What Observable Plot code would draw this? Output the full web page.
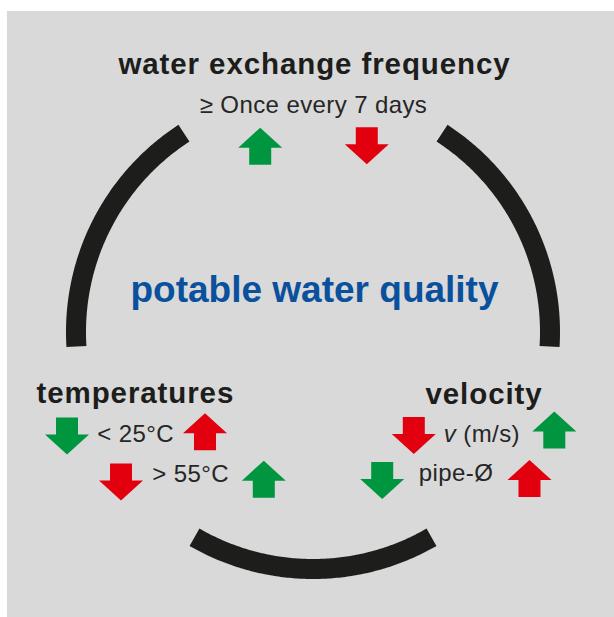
<!DOCTYPE html>
<html><head><meta charset="utf-8">
<script src="https://cdn.jsdelivr.net/npm/d3@7"></script>
<script src="https://cdn.jsdelivr.net/npm/@observablehq/plot@0.6"></script>
<style>
html,body{margin:0;padding:0;background:#fff;}
#chart{position:absolute;left:7px;top:11px;}
</style></head><body><div id="chart"></div>
<script>
// ---------- DATA ----------
const centerLabel = ["potable water quality"];
const groupLabels = ["water exchange frequency", "temperatures", "velocity"];
const conditionLabels = ["≥ Once every 7 days", "< 25°C", "> 55°C", "v (m/s)", "pipe-Ø"];
// two arrows per condition (left, right)
const arrowCondition = ["≥ Once every 7 days","≥ Once every 7 days","< 25°C","< 25°C","> 55°C","> 55°C","v (m/s)","v (m/s)","pipe-Ø","pipe-Ø"];
const arrowDirection = ["up","down","down","up","down","up","down","up","down","up"];
const arrowSignal    = ["good","bad","good","bad","bad","good","bad","good","good","bad"];
// ring segments (degrees, clockwise from top)
const arcStartDeg = [-93.5, 33, 150];
const arcEndDeg   = [-33, 93.5, 210];

// ---------- LAYOUT / STYLE ----------
const ring = {cx: 312.5, cy: 331.5, r: 237, width: 20};
const groupPos = [
  {x: 314, y: 73.5, anchor: "middle"},
  {x: 36, y: 402, anchor: "start"},
  {x: 425, y: 403, anchor: "start"}
];
const conditionPos = [
  {x: 313, y: 112.3, anchor: "middle"},
  {x: 96.7, y: 441.7, anchor: "start"},
  {x: 151.7, y: 481, anchor: "start"},
  {x: 443.3, y: 441.7, anchor: "start"},
  {x: 418.3, y: 480, anchor: "start"}
];
const arrowPos = [
  [259.7,145.7],[366.3,145.3],
  [66.5,435.5],[204.5,431.3],
  [120.5,481.5],[263.3,478.7],
  [413.3,435],[553.8,429.5],
  [381.7,480],[529,478]
];
const centerPos = {x: 314, y: 301.7};
const colors = {good: "#00963f", bad: "#e2000f", ink: "#1d1d1b", text: "#262626", blue: "#0a519d", panel: "#d9d9d9"};
const font = "'Liberation Sans', Arial, Helvetica, sans-serif";

// block arrow symbols (44 wide, 37 tall)
function blockArrow(dir) {
  const s = dir === "up" ? 1 : -1;
  const hw = 22, sw = 11, top = -18.5, bot = 18.5, headBase = top + 20;
  return {
    draw(ctx) {
      ctx.moveTo(0, s * top);
      ctx.lineTo(hw, s * headBase);
      ctx.lineTo(sw, s * headBase);
      ctx.lineTo(sw, s * bot);
      ctx.lineTo(-sw, s * bot);
      ctx.lineTo(-sw, s * headBase);
      ctx.lineTo(-hw, s * headBase);
      ctx.closePath();
    }
  };
}

// ---------- BUILD TABLES ----------
const rad = Math.PI / 180;
const arcPoints = arcStartDeg.flatMap((a0, i) =>
  d3.range(a0, arcEndDeg[i] + 0.001, 0.5).map(a => ({
    seg: i,
    x: ring.cx + ring.r * Math.sin(a * rad),
    y: ring.cy - ring.r * Math.cos(a * rad)
  }))
);
const arrows = arrowDirection.map((d, i) => ({
  condition: arrowCondition[i], dir: d, signal: arrowSignal[i],
  x: arrowPos[i][0], y: arrowPos[i][1]
}));
const groups = groupLabels.map((t, i) => ({text: t, ...groupPos[i]}));
const conds = conditionLabels.map((t, i) => ({text: t, ...conditionPos[i]}));

const textMarks = (rows, opts) => ["start", "middle"].map(anchor =>
  Plot.text(rows.filter(d => d.anchor === anchor), {
    x: "x", y: "y", text: "text", textAnchor: anchor, lineAnchor: "bottom",
    fontFamily: font, ...opts
  })
);

const chart = Plot.plot({
  width: 607, height: 606, margin: 0,
  x: {domain: [7, 614], range: [0, 607], axis: null},
  y: {domain: [11, 617], range: [0, 606], axis: null},
  color: {type: "identity"},
  style: {background: colors.panel, overflow: "visible"},
  marks: [
    Plot.line(arcPoints, {x: "x", y: "y", z: "seg", stroke: colors.ink,
      strokeWidth: ring.width, strokeLinecap: "butt", strokeLinejoin: "round"}),
    Plot.dot(arrows.filter(d => d.dir === "up"), {x: "x", y: "y", r: 20,
      symbol: blockArrow("up"), fill: d => colors[d.signal], stroke: "none"}),
    Plot.dot(arrows.filter(d => d.dir === "down"), {x: "x", y: "y", r: 20,
      symbol: blockArrow("down"), fill: d => colors[d.signal], stroke: "none"}),
    ...textMarks(groups, {fontSize: 29.5, fontWeight: "bold", fill: colors.ink, ariaLabel: "group"}),
    ...textMarks(conds, {fontSize: 24, fill: colors.text, ariaLabel: "cond"}),
    Plot.text(centerLabel, {x: () => centerPos.x, y: () => centerPos.y, text: d => d,
      textAnchor: "middle", lineAnchor: "bottom", fontFamily: font,
      fontSize: 37, fontWeight: "bold", fill: colors.blue})
  ]
});

// letter spacing tweaks to match the reference typeface widths
const svg = d3.select(chart);
const spacing = {group: "0.9px", cond: "0.4px"};
Object.entries(spacing).forEach(([label, ls]) => {
  svg.selectAll(`[aria-label="${label}"]`).each(function() {
    d3.select(this).style("letter-spacing", ls);
    d3.select(this).selectAll("text").style("letter-spacing", ls);
  });
});
// fallback: apply by matching text content
svg.selectAll("text").each(function() {
  const t = this.textContent;
  if (groupLabels.includes(t)) this.style.letterSpacing = spacing.group;
  else if (conditionLabels.includes(t)) this.style.letterSpacing = spacing.cond;
});

// italic velocity symbol
svg.selectAll("text").each(function() {
  const t = this.textContent;
  if (t === "v (m/s)") {
    const sel = d3.select(this);
    sel.text(null);
    sel.append("tspan").attr("font-style", "italic").text("v");
    sel.append("tspan").text(" (m/s)");
  }
});
document.getElementById("chart").appendChild(chart);
</script></body></html>
